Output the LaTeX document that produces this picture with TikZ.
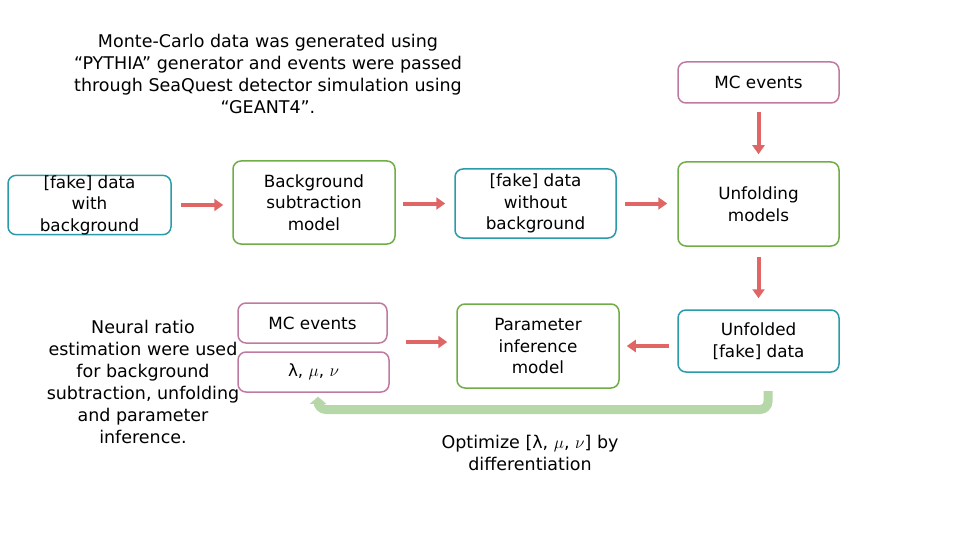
\documentclass[tikz,border=0pt]{standalone}
\usepackage{fontspec}
\setmainfont{DejaVu Sans}
\usetikzlibrary{arrows.meta}
\definecolor{tealc}{HTML}{2A9BAA}
\definecolor{greenc}{HTML}{70AD47}
\definecolor{pinkc}{HTML}{C07AA0}
\definecolor{redc}{HTML}{E06666}
\definecolor{lgreen}{HTML}{B6D7A8}
\tikzset{
  box/.style={draw, line width=1.5pt, rounded corners=8pt, align=center, inner sep=0pt, font=\fontsize{16.8}{21.5}\selectfont},
  tbox/.style={box, draw=tealc},
  gbox/.style={box, draw=greenc},
  pbox/.style={box, draw=pinkc},
  flow/.style={draw=redc, line width=4pt, -{Triangle[length=9pt,width=12pt]}},
  note/.style={align=center, font=\fontsize{17.5}{22}\selectfont},
}
\begin{document}
\begin{tikzpicture}[x=1pt,y=-1pt]
\useasboundingbox (0,0) rectangle (960,540);
\node[tbox, minimum width=163pt, minimum height=58pt] (fb) at (89.5,205) {[fake] data\\with\\background};
\node[gbox, minimum width=162pt, minimum height=83pt] (bs) at (314,202.5) {Background\\subtraction\\model};
\node[tbox, minimum width=161pt, minimum height=69pt] (fw) at (535.5,203.5) {[fake] data\\without\\background};
\node[gbox, minimum width=161pt, minimum height=84pt] (um) at (758.5,204) {Unfolding\\models};
\node[pbox, minimum width=161pt, minimum height=41pt] (mc1) at (758.5,82.5) {MC events};
\node[tbox, minimum width=161pt, minimum height=62pt] (uf) at (758.5,341) {Unfolded\\{}[fake] data};
\node[gbox, minimum width=162pt, minimum height=84pt] (pi) at (538,346) {Parameter\\inference\\model};
\node[pbox, minimum width=149pt, minimum height=40pt] (mc2) at (312.5,323) {MC events};
\node[pbox, minimum width=151pt, minimum height=40pt] (lmn) at (313.5,372) {λ, $\mu$, $\nu$};

\node[note] (top) at (268,74) {Monte-Carlo data was generated using\\“PYTHIA” generator and events were passed\\through SeaQuest detector simulation using\\“GEANT4”.};
\node[note] (left) at (143,382) {Neural ratio\\estimation were used\\for background\\subtraction, unfolding\\and parameter\\inference.};
\node[note] (opt) at (530,453) {Optimize [λ, $\mu$, $\nu$] by\\differentiation};

\draw[flow] ([xshift=9pt]fb.east) -- ([xshift=-9pt]bs.west |- fb.east);
\draw[flow] ([xshift=7pt]bs.east |- fw.west) -- ([xshift=-9pt]fw.west);
\draw[flow] ([xshift=8pt]fw.east) -- ([xshift=-10pt]um.west |- fw.east);
\draw[flow] ([yshift=-8pt]mc1.south) -- ([yshift=7pt]um.north);
\draw[flow] ([yshift=-10pt]um.south) -- ([yshift=11pt]uf.north);
\draw[flow] ([xshift=-8pt]uf.west |- pi.east) -- ([xshift=7pt]pi.east);
\draw[flow] ([xshift=18pt]mc2.east |- 0,342) -- ([xshift=-9pt]pi.west |- 0,342);
\coordinate (c1) at (768,391);
\draw[draw=lgreen, line width=9pt, rounded corners=8pt, -{Triangle[length=7pt,width=16pt]}]
  (c1) -- (768,409.5) -- (318,409.5) -- ([yshift=-4pt]lmn.south -| 318,0);
\end{tikzpicture}
\end{document}
